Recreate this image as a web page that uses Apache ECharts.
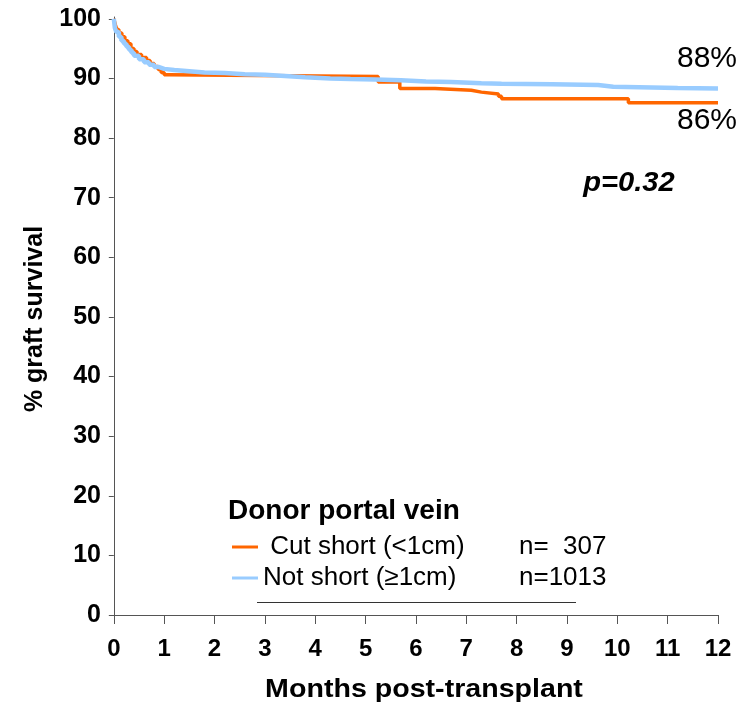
<!DOCTYPE html>
<html>
<head>
<meta charset="utf-8">
<script src="https://cdn.jsdelivr.net/npm/echarts@6/dist/echarts.min.js"></script>
<style>
html,body{margin:0;padding:0;background:#fff;}
#chart{width:754px;height:712px;}
</style>
</head>
<body>
<div id="chart"></div>
<script>
// ---- data ----
const seriesNames = ['Cut short (<1cm)', 'Not short (\u22651cm)'];
const seriesN = ['n=  307', 'n=1013'];
const cutTimes = [0, 0.03, 0.06, 0.10, 0.16, 0.22, 0.28, 0.34, 0.40, 0.46, 0.55, 0.65, 0.72, 0.80, 0.88, 0.94, 1.00, 1.10, 5.25, 5.68, 6.38, 7.10, 7.30, 7.64, 7.70, 10.22, 12];
const cutSurv  = [100, 99.0, 98.2, 97.6, 97.0, 96.3, 95.8, 95.0, 94.5, 94.0, 93.5, 93.0, 92.5, 92.0, 91.5, 91.0, 90.6, 90.3, 89.4, 88.3, 88.0, 87.7, 87.4, 87.0, 86.6, 85.9, 85.9];
const notTimes = [0, 0.02, 0.05, 0.10, 0.15, 0.20, 0.25, 0.30, 0.35, 0.40, 0.50, 0.60, 0.70, 0.80, 0.90, 1.00, 1.20, 1.50, 1.80, 2.20, 2.60, 3.00, 3.40, 3.80, 4.30, 4.70, 5.20, 5.70, 6.20, 6.70, 7.30, 7.70, 8.70, 9.62, 9.92, 11.20, 12];
const notSurv  = [100, 98.5, 97.8, 97.0, 96.3, 95.8, 95.3, 94.8, 94.3, 93.8, 93.2, 92.7, 92.3, 91.9, 91.6, 91.4, 91.2, 91.0, 90.9, 90.7, 90.6, 90.4, 90.2, 90.0, 89.9, 89.8, 89.7, 89.5, 89.4, 89.2, 89.1, 89.0, 88.9, 88.6, 88.4, 88.3, 88.3];
const xTicks = [0,1,2,3,4,5,6,7,8,9,10,11,12];
const yTicks = [0,10,20,30,40,50,60,70,80,90,100];
const endLabels = ['88%', '86%'];
const pText = 'p=0.32';
const legendTitle = 'Donor portal vein';
const xTitle = 'Months post-transplant';
const yTitle = '% graft survival';

const zip = (a, b) => a.map((t, i) => [t, b[i]]);
const FONT = '"Liberation Sans", Arial, Helvetica, sans-serif';
const colors = ['#FF6600', '#99CCFF'];

const chart = echarts.init(document.getElementById('chart'), null, {renderer: 'canvas'});
chart.setOption({
  animation: false,
  backgroundColor: '#ffffff',
  grid: {left: 110, right: 36, top: 17, bottom: 89, containLabel: false},
  xAxis: {
    type: 'value', min: -0.076, max: 12,
    axisLine: {show: true, lineStyle: {color: '#555', width: 1}},
    axisTick: {show: true, length: 9, lineStyle: {color: '#555'}, customValues: xTicks},
    axisLabel: {customValues: xTicks, color: '#000', fontFamily: FONT, fontWeight: 'bold', fontSize: 24, margin: 14},
    splitLine: {show: false}
  },
  yAxis: {
    type: 'value', min: -1.34, max: 100.3,
    axisLine: {show: true, lineStyle: {color: '#555', width: 1}},
    axisTick: {show: true, length: 5, lineStyle: {color: '#555'}, customValues: yTicks},
    axisLabel: {customValues: yTicks, color: '#000', fontFamily: FONT, fontWeight: 'bold', fontSize: 25, margin: 9},
    splitLine: {show: false}
  },
  legend: {
    show: true, orient: 'vertical', left: 227, top: 529,
    itemWidth: 26, itemHeight: 3, itemGap: 5, icon: 'rect',
    data: seriesNames,
    formatter: function (name) {
      const i = seriesNames.indexOf(name);
      const pre = i === 0 ? ' ' : '';
      return '{a|' + pre + name + '}{b|' + seriesN[i] + '}';
    },
    textStyle: {
      color: '#000', fontFamily: FONT, fontSize: 26, padding: 0,
      rich: {
        a: {width: 256, fontFamily: FONT, fontSize: 26, color: '#000', lineHeight: 26},
        b: {fontFamily: FONT, fontSize: 26, color: '#000', lineHeight: 26}
      }
    }
  },
  series: [
    {
      name: seriesNames[0], type: 'line', step: 'end', showSymbol: false, symbol: 'none',
      data: zip(cutTimes, cutSurv), color: colors[0],
      lineStyle: {color: colors[0], width: 3.5}, z: 2
    },
    {
      name: seriesNames[1], type: 'line', step: 'end', showSymbol: false, symbol: 'none',
      data: zip(notTimes, notSurv), color: colors[1],
      lineStyle: {color: colors[1], width: 4.5}, z: 3
    }
  ],
  graphic: [
    {type: 'text', left: 228, top: 497, style: {text: legendTitle, font: 'bold 28px ' + FONT, fill: '#000'}},
    {type: 'line', shape: {x1: 257, y1: 602.5, x2: 576, y2: 602.5}, style: {stroke: '#333', lineWidth: 1}},
    {type: 'text', x: 707, y: 59, style: {text: endLabels[0], font: '30px ' + FONT, fill: '#000', textAlign: 'center', textVerticalAlign: 'middle'}},
    {type: 'text', x: 707, y: 121, style: {text: endLabels[1], font: '30px ' + FONT, fill: '#000', textAlign: 'center', textVerticalAlign: 'middle'}},
    {type: 'text', x: 629, y: 184, scaleX: 1.08, style: {text: pText, font: 'italic bold 27px ' + FONT, fill: '#000', textAlign: 'center', textVerticalAlign: 'middle'}},
    {type: 'text', x: 424, y: 690, scaleX: 1.1, style: {text: xTitle, font: 'bold 26px ' + FONT, fill: '#000', textAlign: 'center', textVerticalAlign: 'middle'}},
    {type: 'text', x: 35, y: 319, rotation: Math.PI / 2, style: {text: yTitle, font: 'bold 25px ' + FONT, fill: '#000', textAlign: 'center', textVerticalAlign: 'middle'}}
  ]
});
</script>
</body>
</html>
